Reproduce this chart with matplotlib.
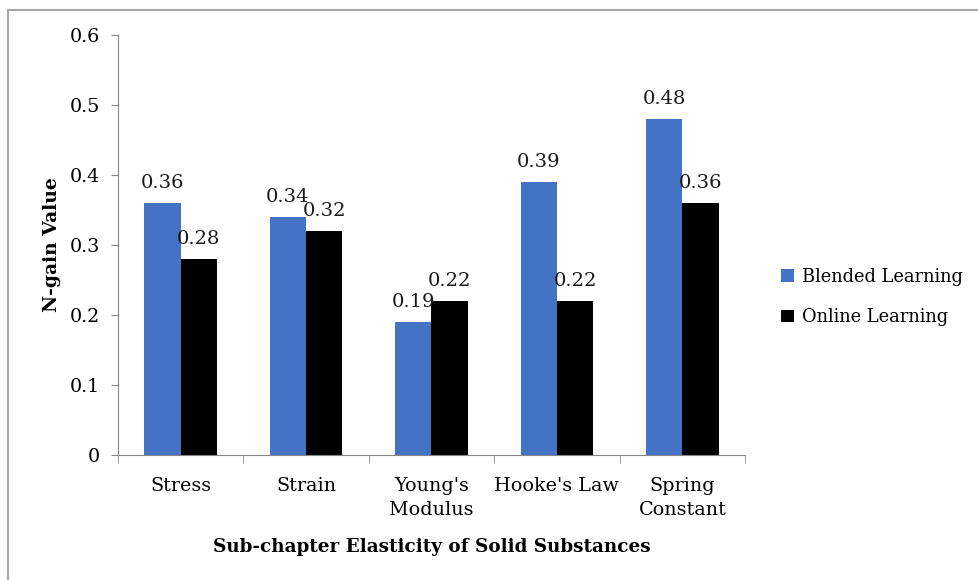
import matplotlib
matplotlib.use("Agg")
import matplotlib.pyplot as plt
import numpy as np
from matplotlib.patches import Rectangle

categories = ["Stress", "Strain", "Young's\nModulus", "Hooke's Law", "Spring\nConstant"]
blended = [0.36, 0.34, 0.19, 0.39, 0.48]
online = [0.28, 0.32, 0.22, 0.22, 0.36]
yticks = [0, 0.1, 0.2, 0.3, 0.4, 0.5, 0.6]

plt.rcParams['font.family'] = ['DejaVu Serif']
fig = plt.figure(figsize=(9.79, 5.8), dpi=100)
ax = fig.add_axes([0.1205, 0.2155, 0.6405, 0.7242])

# gray frame around the chart area
fig.patches.append(Rectangle((8 / 979, -0.1), 1.2, 1 - 10 / 580 + 0.1, transform=fig.transFigure,
                             fill=False, edgecolor="#a6a6a6", linewidth=1.5))

x = np.arange(len(categories))
w = 0.29
b1 = ax.bar(x - w / 2, blended, w, color="#4472c4", label="Blended Learning")
b2 = ax.bar(x + w / 2, online, w, color="#000000", label="Online Learning")

for bars, vals in ((b1, blended), (b2, online)):
    for r, v in zip(bars, vals):
        ax.text(r.get_x() + r.get_width() / 2, v + 0.016, f"{v:.2f}", ha="center", va="bottom",
                fontsize=14, color="#1a1a1a")

ax.set_xlim(-0.5, len(categories) - 0.5)
ax.set_ylim(0, 0.6)
ax.set_yticks(yticks)
ax.set_yticklabels([f"{t:g}" for t in yticks], fontsize=13.8)
ax.set_xticks(x)
ax.set_xticklabels(categories, fontsize=13.8, linespacing=1.38)
ax.set_xticks(np.arange(len(categories) + 1) - 0.5, minor=True)
ax.tick_params(axis="x", which="major", length=0, pad=16)
ax.tick_params(axis="x", which="minor", length=6, color="#868686")
ax.tick_params(axis="y", length=5, color="#868686", pad=8)

for s in ("top", "right"):
    ax.spines[s].set_visible(False)
for s in ("left", "bottom"):
    ax.spines[s].set_color("#868686")

ax.set_xlabel("Sub-chapter Elasticity of Solid Substances", fontsize=13.2, fontweight="bold", labelpad=14)
ax.set_ylabel("N-gain Value", fontsize=13.5, fontweight="bold", labelpad=6)

fig.legend(handles=[b1, b2], loc="center left", bbox_to_anchor=(781 / 979, 1 - 297 / 580),
           frameon=False, fontsize=12.9, borderpad=0, borderaxespad=0,
           handlelength=0.7, handleheight=0.7, handletextpad=0.5, labelspacing=1.25)

fig.savefig("out.png", dpi=100)
